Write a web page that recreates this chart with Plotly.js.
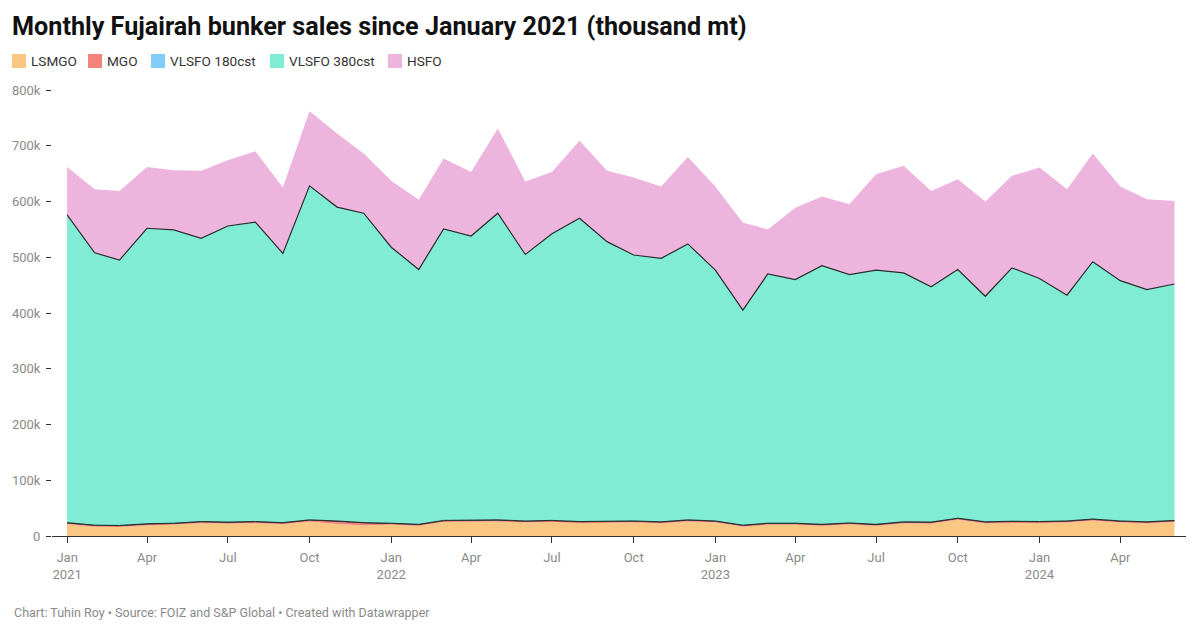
<!DOCTYPE html>
<html>
<head>
<meta charset="utf-8">
<script src="https://cdn.plot.ly/plotly-3.0.1.min.js"></script>
<style>
html,body{margin:0;padding:0;background:#fff;}
#chart{width:1200px;height:632px;}
</style>
</head>
<body>
<div id="chart"></div>
<script>
const months = ["2021-01","2021-02","2021-03","2021-04","2021-05","2021-06","2021-07","2021-08","2021-09","2021-10","2021-11","2021-12",
"2022-01","2022-02","2022-03","2022-04","2022-05","2022-06","2022-07","2022-08","2022-09","2022-10","2022-11","2022-12",
"2023-01","2023-02","2023-03","2023-04","2023-05","2023-06","2023-07","2023-08","2023-09","2023-10","2023-11","2023-12",
"2024-01","2024-02","2024-03","2024-04","2024-05","2024-06"];

const lsmgo = [21,16.5,16,19,20,23,22,23,21,26,21.5,19,20,18,25,26,26,24,25,23,23,24,22.5,26,24,16.5,20,20,18,20.5,18,22.5,22,29,22.5,23.5,23,24,27.5,24,22.5,25];
const mgo = [2.5,2.5,2.5,2.5,2.5,2.5,2.5,2.5,2.5,2.5,5,4.5,2.5,2.5,2.5,2.5,2.5,2.5,2.5,2.5,2.5,2.5,2.5,2.5,2.5,2.5,2.5,2.5,2.5,2.5,2.5,2.5,2.5,2.5,2.5,2.5,2.5,2.5,2.5,2.5,2.5,2.5];
const vlsfo180 = [0.5,0.5,0.5,0.5,0.5,0.5,0.5,0.5,0.5,0.5,0.5,0.5,0.5,0.5,0.5,0.5,0.5,0.5,0.5,0.5,0.5,0.5,0.5,0.5,0.5,0.5,0.5,0.5,0.5,0.5,0.5,0.5,0.5,0.5,0.5,0.5,0.5,0.5,0.5,0.5,0.5,0.5];
const vlsfo380 = [552,488.5,476,530,526,508,531,537,483,599,563,555,495,457,523,509,550,478,514,544,502,477,472.5,495,450,385.5,447,437,464,445.5,456,446.5,422,446,404.5,454.5,436,405,461.5,431,416.5,424];
const hsfo = [86,114,124,110,107,121,118,127,118,134,132,107,119,125,126,115,152,131,111,139,127,139,129,156,150,157,80,129,124,126,172,192,172,162,170,165,199,190,194,169,162,149];

const seriesNames = ["LSMGO","MGO","VLSFO 180cst","VLSFO 380cst","HSFO"];
const seriesColors = ["#fac782","#f3837d","#82cdf8","#80ecd4","#edb4de"];
const lineColors = ["rgba(0,0,0,0)","#2b2b2b","#2b2b2b","#2b2b2b","rgba(0,0,0,0)"];
const lineWidths = [0,1,1,1.2,0];
const seriesData = [lsmgo, mgo, vlsfo180, vlsfo380, hsfo];

const xTickVals = ["2021-01","2021-04","2021-07","2021-10","2022-01","2022-04","2022-07","2022-10","2023-01","2023-04","2023-07","2023-10","2024-01","2024-04"];
const xTickText = ["Jan<br>2021","Apr","Jul","Oct","Jan<br>2022","Apr","Jul","Oct","Jan<br>2023","Apr","Jul","Oct","Jan<br>2024","Apr"];
const yTickVals = [0,100,200,300,400,500,600,700,800];
const yTickText = ["0","100k","200k","300k","400k","500k","600k","700k","800k"];

const traces = seriesData.map((d,i)=>({
  type:"scatter", mode:"lines", x:months, y:d, name:seriesNames[i],
  stackgroup:"one", fillcolor:seriesColors[i],
  line:{color:lineColors[i], width:lineWidths[i]},
  showlegend:false, hoverinfo:"x+y+name"
}));

// plot area in px: left 52, right 1186, top 90, bottom 536
const L=52, R=1186, T=90, B=536;
const px = x => (x-L)/(R-L);
const py = y => (B-y)/(B-T);

const legendX = [12,88,151,270,388];
const shapes = [];
const annotations = [];
seriesNames.forEach((n,i)=>{
  shapes.push({type:"rect", xref:"paper", yref:"paper", x0:px(legendX[i]), x1:px(legendX[i]+14), y0:py(68), y1:py(54), fillcolor:seriesColors[i], line:{width:0}});
  annotations.push({xref:"paper", yref:"paper", x:px(legendX[i]+17), y:py(61), xanchor:"left", yanchor:"middle", text:n, showarrow:false, font:{family:"Roboto", size:13.6, color:"#333"}});
});
annotations.push({xref:"paper", yref:"paper", x:px(12), y:py(612), xanchor:"left", yanchor:"middle", showarrow:false,
  text:"Chart: Tuhin Roy • Source: FOIZ and S&P Global • Created with Datawrapper", font:{family:"Roboto", size:12.5, color:"#8a8a8a"}});

const layout = {
  width:1200, height:632,
  margin:{l:L, r:1200-R, t:T, b:632-B},
  paper_bgcolor:"#fff", plot_bgcolor:"#fff",
  title:{text:"<b>Monthly Fujairah bunker sales since January 2021 (thousand mt)</b>", xref:"container", yref:"container", x:12/1200, xanchor:"left", y:1-26/632, yanchor:"middle", font:{family:"Roboto", size:25.2, color:"#111"}},
  xaxis:{type:"date", range:["2020-12-15","2024-06-14"], tickvals:xTickVals, ticktext:xTickText, ticks:"outside", ticklen:6, tickcolor:"#333", tickwidth:1,
    ticklabelstandoff:3,
    showline:true, linecolor:"#333", linewidth:1, showgrid:false, zeroline:false, tickfont:{family:"Roboto", size:13, color:"#8a8a8a"}},
  yaxis:{range:[0,800], tickvals:yTickVals, ticktext:yTickText, ticks:"outside", ticklen:5, tickcolor:"#333", tickwidth:1,
    ticklabelstandoff:3,
    showline:false, showgrid:false, zeroline:false, tickfont:{family:"Roboto", size:13, color:"#8a8a8a"}},
  shapes:shapes, annotations:annotations, showlegend:false
};

Plotly.newPlot("chart", traces, layout, {displayModeBar:false, staticPlot:true});
</script>
</body>
</html>
